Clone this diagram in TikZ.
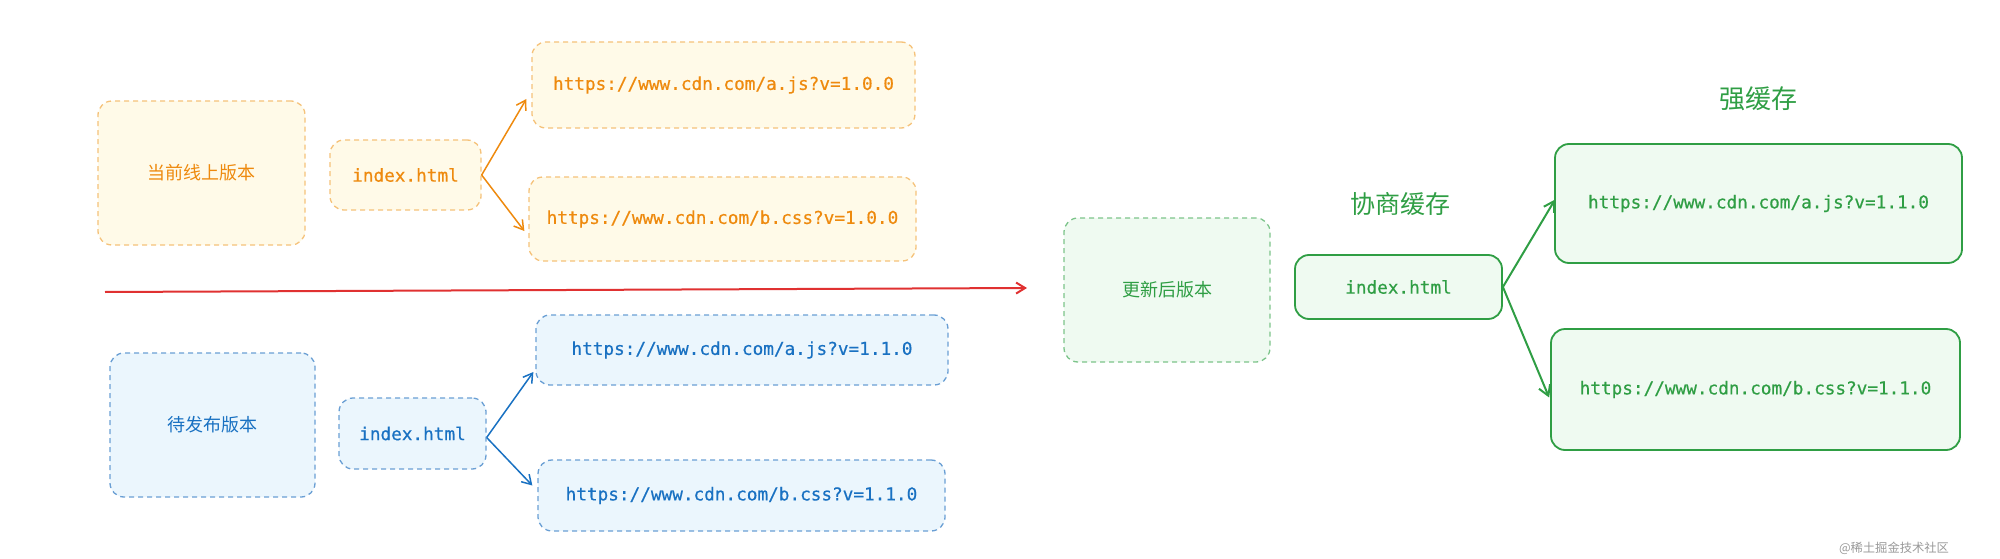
\documentclass[tikz,border=0pt]{standalone}
\usepackage{fontspec}
\setmonofont{DejaVu Sans Mono}
\newfontfamily\codefont[FakeBold=0.5]{DejaVu Sans Mono}
\newfontfamily\cjk{Noto Sans CJK SC}
\usetikzlibrary{arrows.meta}
\definecolor{otext}{HTML}{EE8A0E}
\definecolor{oline}{HTML}{F5C27A}
\definecolor{ofill}{HTML}{FFFAE8}
\definecolor{btext}{HTML}{1971C2}
\definecolor{bline}{HTML}{6A9FD4}
\definecolor{bfill}{HTML}{EBF6FD}
\definecolor{gtext}{HTML}{2F9E44}
\definecolor{gline}{HTML}{7CC48A}
\definecolor{gfill}{HTML}{EFFAF1}
\definecolor{rline}{HTML}{E03131}
\tikzset{
  box/.style={rounded corners=14pt, line width=1.3pt, inner sep=0pt, align=center},
  obox/.style={box, draw=oline, fill=ofill, dashed, dash pattern=on 5pt off 4pt, text=otext},
  bbox/.style={box, draw=bline, fill=bfill, dashed, dash pattern=on 5pt off 4pt, text=btext},
  gdbox/.style={box, draw=gline, fill=gfill, dashed, dash pattern=on 5pt off 4pt, text=gtext},
  gbox/.style={box, draw=gtext, fill=gfill, line width=1.8pt, text=gtext},
  code/.style={font=\codefont\fontsize{17.7}{20}\selectfont},
  zh/.style={font=\cjk\fontsize{18}{21}\selectfont},
  oarr/.style={draw=otext, line width=1.5pt, -{Straight Barb[length=9pt,width=11pt]}},
  barr/.style={draw=btext, line width=1.5pt, -{Straight Barb[length=9pt,width=11pt]}},
  garr/.style={draw=gtext, line width=2pt, -{Straight Barb[length=10pt,width=12pt]}},
  rarr/.style={draw=rline, line width=2pt, -{Straight Barb[length=9pt,width=11pt]}},
}
\begin{document}
\begin{tikzpicture}[x=1pt,y=-1pt]
\useasboundingbox (0,0) rectangle (2000,559);
% orange
\node[obox, zh, minimum width=207pt, minimum height=144pt] (cur) at (201.5,173) {当前线上版本};
\node[obox, code, minimum width=151pt, minimum height=70pt] (oidx) at (405.5,175) {index.html};
\node[obox, code, minimum width=383pt, minimum height=86pt] (oa) at (723.5,85) {https://www.cdn.com/a.js?v=1.0.0};
\node[obox, code, minimum width=387pt, minimum height=84pt] (ob) at (722.5,219) {https://www.cdn.com/b.css?v=1.0.0};
\draw[oarr] (oidx.east) -- ([xshift=-5pt,yshift=-14pt]oa.west);
\draw[oarr] (oidx.east) -- ([xshift=-4pt,yshift=-12pt]ob.west);
% blue
\node[bbox, zh, minimum width=205pt, minimum height=144pt] (pend) at (212.5,425) {待发布版本};
\node[bbox, code, minimum width=147pt, minimum height=71pt] (bidx) at (412.5,433.5) {index.html};
\node[bbox, code, minimum width=412pt, minimum height=70pt] (ba) at (742,350) {https://www.cdn.com/a.js?v=1.1.0};
\node[bbox, code, minimum width=407pt, minimum height=71pt] (bb) at (741.5,495.5) {https://www.cdn.com/b.css?v=1.1.0};
\draw[barr] ([yshift=-4pt]bidx.east) -- ([xshift=-2pt,yshift=-22pt]ba.west);
\draw[barr] ([yshift=-4pt]bidx.east) -- ([xshift=-5pt,yshift=10pt]bb.west);
% red
\coordinate (rs) at (105,292);
\coordinate (re) at (1027,288);
\draw[rarr] (rs) -- (re);
% green
\node[gdbox, zh, minimum width=206pt, minimum height=144pt] (new) at (1167,290) {更新后版本};
\node[gbox, code, minimum width=207pt, minimum height=64pt] (gidx) at (1398.5,287) {index.html};
\node[gbox, code, minimum width=407pt, minimum height=119pt] (ga) at (1758.5,203.5) {https://www.cdn.com/a.js?v=1.1.0};
\node[gbox, code, minimum width=409pt, minimum height=121pt] (gb) at (1755.5,389.5) {https://www.cdn.com/b.css?v=1.1.0};
\draw[garr] (gidx.east) -- ([xshift=1pt,yshift=4pt]ga.west);
\draw[garr] (gidx.east) -- ([xshift=-1pt,yshift=-8pt]gb.west);
\node[text=gtext, font=\cjk\fontsize{25}{28}\selectfont] (neg) at (1400,204) {协商缓存};
\node[text=gtext, font=\cjk\fontsize{26}{30}\selectfont] (strong) at (1758,99) {强缓存};
% watermark
\node[text=black!40, font=\cjk\fontsize{12.3}{14}\selectfont] (wm) at (1894,548) {@稀土掘金技术社区};
\end{tikzpicture}
\end{document}
